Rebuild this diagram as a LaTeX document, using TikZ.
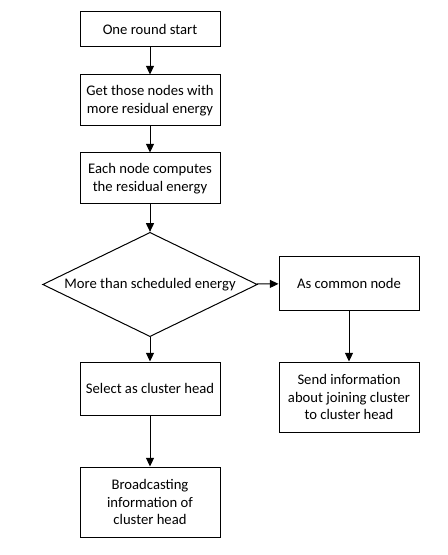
\documentclass[tikz,border=0pt]{standalone}
\usepackage{fontspec}
\setmainfont{Carlito}
\usetikzlibrary{arrows.meta,shapes.geometric}
\begin{document}
\begin{tikzpicture}[
    x=0.75pt,
    y=-0.75pt,
    ->,
    >={Triangle[length=6.5pt,width=6pt]},
    line width=0.75pt,
    font=\fontsize{11pt}{13.4pt}\selectfont,
    box/.style={draw, rectangle, align=center, minimum width=105pt, inner sep=0pt},
    decision/.style={draw, diamond, aspect=1.87, align=center, minimum width=161pt, inner sep=0pt}
]
\useasboundingbox (0,0) rectangle (447,555);
\node[box, minimum height=26.25pt] (start) at (150,29.5) {One round start};
\node[box, minimum height=38.25pt] (get) at (150,100.5) {Get those nodes with\\more residual energy};
\node[box, minimum height=38.25pt] (compute) at (150,178.5) {Each node computes\\the residual energy};
\node[decision] (more) at (150,284.5) {More than scheduled energy};
\node[box, minimum height=39.75pt] (common) at (349,283.5) {As common node};
\node[box, minimum height=39.75pt] (select) at (150,388.5) {Select as cluster head};
\node[box, minimum height=52.5pt] (broadcast) at (150,502) {Broadcasting\\information of\\cluster head};
\node[box, minimum height=52.5pt] (send) at (349,397) {Send information\\about joining cluster\\to cluster head};
\path
  (start) edge (get)
  (get) edge (compute)
  (compute) edge (more)
  (more) edge (select)
  (select) edge (broadcast)
  (more) edge (common)
  (common) edge (send);
\end{tikzpicture}
\end{document}
